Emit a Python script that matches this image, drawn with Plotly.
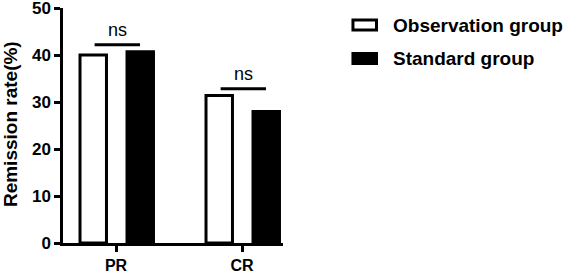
import plotly.graph_objects as go

categories = ["PR", "CR"]
series_names = ["Observation group", "Standard group"]
observation = [40.0, 31.4]
standard = [40.7, 28.0]
sig_labels = ["ns", "ns"]
sig_heights = [42.2, 32.8]
y_ticks = [0, 10, 20, 30, 40, 50]
y_title = "Remission rate(%)"

FONT = "Liberation Sans, Arial, sans-serif"
pos = list(range(len(categories)))

fig = go.Figure()
fig.add_trace(go.Bar(
    x=pos, y=observation, name=series_names[0],
    width=0.21, offset=-0.286,
    marker=dict(color="white", line=dict(color="black", width=3)),
    showlegend=False,
))
fig.add_trace(go.Bar(
    x=pos, y=standard, name=series_names[1],
    width=0.21, offset=0.087,
    marker=dict(color="black", line=dict(color="black", width=3)),
    showlegend=False,
))

# significance bars
for i, (lab, h) in enumerate(zip(sig_labels, sig_heights)):
    fig.add_shape(type="line", xref="x", yref="y",
                  x0=i - 0.17, x1=i + 0.19, y0=h, y1=h,
                  line=dict(color="black", width=3))
    fig.add_annotation(x=i + 0.01, y=h, xref="x", yref="y", text=lab,
                       showarrow=False, yanchor="bottom", yshift=3,
                       font=dict(family=FONT, size=18, color="black"))

# custom legend
legend_rows = [(0.9275, "white"), (0.785, "black")]
for name, (yc, fill) in zip(series_names, legend_rows):
    fig.add_shape(type="rect", xref="paper", yref="paper",
                  x0=1.318, x1=1.425, y0=yc - 0.021, y1=yc + 0.021,
                  fillcolor=fill, line=dict(color="black", width=3))
    fig.add_annotation(x=1.49, y=yc, xref="paper", yref="paper",
                       text="<b>%s</b>" % name, showarrow=False,
                       xanchor="left", yanchor="middle",
                       font=dict(family=FONT, size=19, color="black"))

# y-axis title
fig.add_annotation(x=-0.241, y=0.506, xref="paper", yref="paper",
                   text="<b>%s</b>" % y_title, textangle=-90, showarrow=False,
                   xanchor="center", yanchor="middle",
                   font=dict(family=FONT, size=19, color="black"))

fig.update_layout(
    width=566, height=273,
    margin=dict(l=63, r=283, t=8, b=30),
    paper_bgcolor="white", plot_bgcolor="white",
    barmode="overlay",
    font=dict(family=FONT, color="black"),
    xaxis=dict(
        range=[-0.421, 1.325], automargin=False,
        tickvals=pos, ticktext=["<b>%s</b>" % c for c in categories],
        showline=True, linecolor="black", linewidth=2.5,
        ticks="outside", ticklen=6, tickwidth=2.5, tickcolor="black",
        ticklabelstandoff=0,
        showgrid=False, zeroline=False,
        tickfont=dict(family=FONT, size=16, color="black"),
    ),
    yaxis=dict(
        range=[0, 50], automargin=False, ticklabeloverflow="allow",
        tickvals=y_ticks, ticktext=["<b>%d</b>" % v for v in y_ticks],
        showline=True, linecolor="black", linewidth=2.5,
        ticks="outside", ticklen=6, tickwidth=2.5, tickcolor="black",
        showgrid=False, zeroline=False,
        tickfont=dict(family=FONT, size=17, color="black"),
    ),
)

fig.write_html("out.html")
